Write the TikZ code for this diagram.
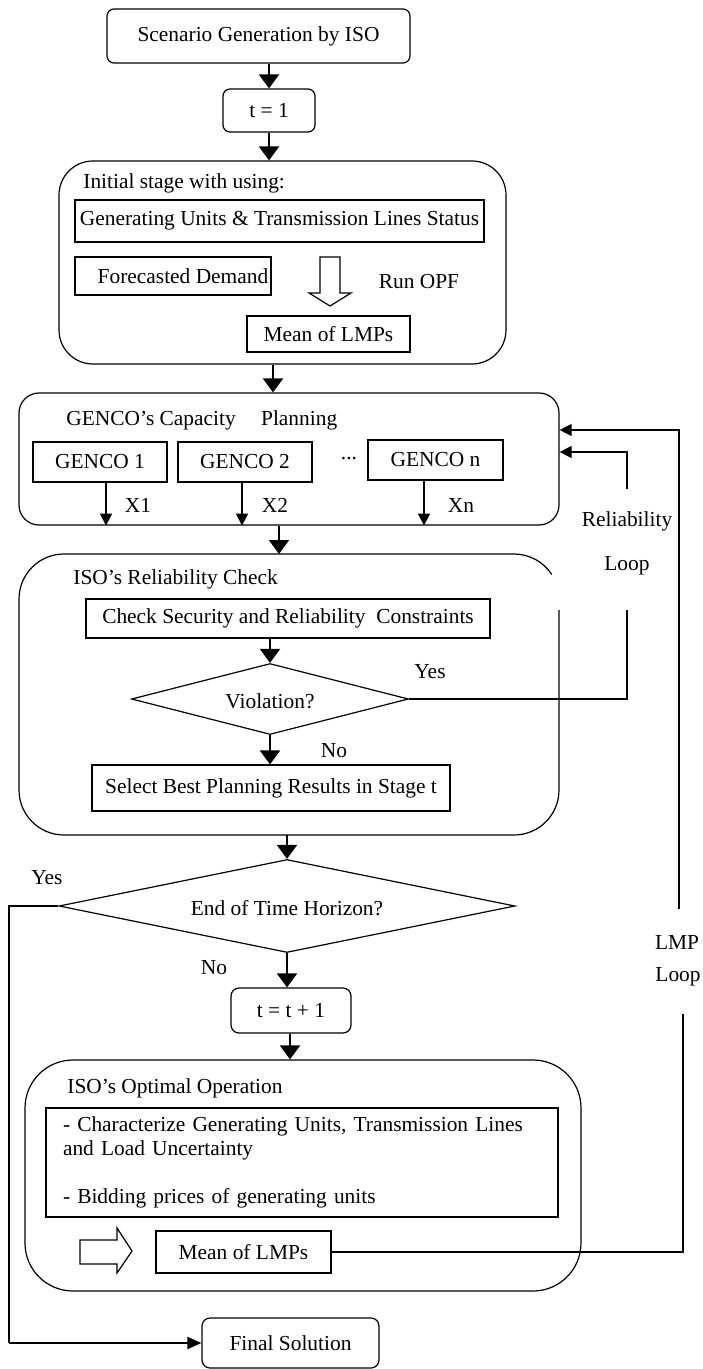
\documentclass[tikz,border=0pt]{standalone}
\usepackage{fontspec}
\setmainfont{Liberation Serif}
\usetikzlibrary{shapes.geometric,arrows.meta,calc}
\begin{document}
\begin{tikzpicture}[x=0.5pt,y=-0.5pt,
  font=\fontsize{10.7}{12}\selectfont,
  box/.style={draw, line width=0.6pt, inner sep=0, rectangle},
  rbox/.style={box, rounded corners=3.5pt},
  bigarr/.style={line width=1pt, -{Triangle[width=10pt,length=7pt]}},
  smallarr/.style={line width=0.7pt, -{Triangle[width=6pt,length=6pt]}},
  loopline/.style={line width=0.6pt},
  dia/.style={draw, diamond, line width=0.6pt, inner sep=0},
  lbl/.style={inner sep=0},
  hollow/.style={draw, line width=0.6pt, fill=white}
]
\useasboundingbox (0,0) rectangle (702,1369);

% top boxes
\node[rbox, minimum width=151.5pt, minimum height=27pt] (scen) at (258.5,36) {Scenario Generation by ISO};
\node[rbox, minimum width=46pt, minimum height=21.5pt] (t1) at (269,110.5) {t = 1};

% initial stage
\node[box, rounded corners=17pt, minimum width=223.5pt, minimum height=101.5pt] (init) at (282.5,262.5) {};
\node[lbl, anchor=west] (initlbl) at (83,183) {Initial stage with using:};
\node[box, minimum width=204.5pt, minimum height=21pt] (gen) at (279.5,221) {Generating Units \& Transmission Lines Status};
\node[box, minimum width=98pt, minimum height=19pt] (fore) at (173,276) {\hspace{10pt}Forecasted Demand};
\draw[hollow] (320,257) -- (340,257) -- (340,293) -- (351,293) -- (330,306) -- (309,293) -- (320,293) -- cycle;
\node[lbl] (runopf) at (419,282) {Run OPF};
\node[box, minimum width=81.5pt, minimum height=18pt] (mean1) at (328.5,334) {Mean of LMPs};

% GENCO planning
\node[box, rounded corners=10pt, minimum width=270pt, minimum height=66pt] (genco) at (289,459) {};
\node[lbl, anchor=west] (gencolbl) at (66,420) {GENCO’s Capacity\hspace{10pt} Planning};
\node[box, minimum width=67pt, minimum height=20pt] (g1) at (100,462) {GENCO 1\hspace{6pt}};
\node[box, minimum width=67pt, minimum height=20pt] (g2) at (245,462) {GENCO 2\hspace{5pt}};
\node[lbl] (dots) at (349,461) {\raisebox{2.5pt}{...}};
\node[box, minimum width=67.5pt, minimum height=20pt] (gn) at (435.5,460) {GENCO n\hspace{5pt}};
\draw[smallarr] ([xshift=3pt]g1.south) -- ([xshift=3pt]g1.south |- genco.south);
\draw[smallarr] ([xshift=-1.5pt]g2.south) -- ([xshift=-1.5pt]g2.south |- genco.south);
\draw[smallarr] ([xshift=-5.75pt]gn.south) -- ([xshift=-5.75pt]gn.south |- genco.south);
\node[lbl] (x1) at (138,505) {X1};
\node[lbl] (x2) at (275,505) {X2};
\node[lbl] (xn) at (461,505) {Xn};

% reliability check (right side interrupted)
\draw[line width=0.6pt, rounded corners=22.5pt] (559,610) -- (559,835) -- (19,835) -- (19,554) -- (514,554);
\draw[line width=0.6pt] (514,554) arc[start angle=90, end angle=33, radius=22.5pt];
\node[lbl, anchor=west] (rellbl) at (73,579) {ISO’s Reliability Check};
\node[box, minimum width=202pt, minimum height=19.5pt] (chk) at (288,618.5) {Check Security and Reliability\ \ Constraints};
\node[dia, minimum width=138.5pt, minimum height=35.5pt] (viol) at (270,699) {};
\node[lbl] (violtxt) at (270,701) {Violation?};
\node[box, minimum width=179pt, minimum height=23pt] (sel) at (271,788) {Select Best Planning Results in Stage t};
\node[lbl] (yes1) at (430,672) {Yes};
\node[lbl] (no1) at (334,751) {No};

% end of horizon
\node[dia, minimum width=228pt, minimum height=46.5pt] (endd) at (287,906) {};
\node[lbl] (endtxt) at (287,908) {End of Time Horizon?};
\node[lbl] (yes2) at (47,878) {Yes};
\node[lbl] (no2) at (214,968) {No};
\node[box, rounded corners=4pt, minimum width=60pt, minimum height=22.5pt] (tt) at (291,1010.5) {t = t + 1};

% optimal operation
\node[box, rounded corners=24pt, minimum width=278pt, minimum height=115.5pt] (opt) at (303,1175.5) {};
\node[lbl, anchor=west] (optlbl) at (67,1088) {ISO’s Optimal Operation};
\node[box, minimum width=256pt, minimum height=54.5pt, align=left, text width=239pt] (inner) at (302,1162.5) {- Characterize Generating Units, Transmission Lines\\and Load Uncertainty\\[12pt]- Bidding prices of generating units};
\draw[hollow] (80,1240) -- (117,1240) -- (117,1228) -- (132,1251) -- (117,1273) -- (117,1264) -- (80,1264) -- cycle;
\node[box, minimum width=87.5pt, minimum height=21pt] (mean2) at (243.5,1252) {Mean of LMPs};

% final
\node[box, rounded corners=4pt, minimum width=88.5pt, minimum height=25pt] (final) at (290.5,1343) {Final Solution};

% main flow arrows
\draw[bigarr] (t1.north |- scen.south) -- (t1.north);
\draw[bigarr] (t1.south) -- (t1.south |- init.north);
\draw[bigarr] ([xshift=-4.75pt]init.south) -- ([xshift=-4.75pt]init.south |- genco.north);
\draw[bigarr] ([xshift=-5pt]genco.south) -- ([xshift=-5pt]genco.south |- 0,554);
\draw[bigarr] (viol.north |- chk.south) -- (viol.north);
\draw[bigarr] (viol.south) -- (viol.south |- sel.north);
\draw[bigarr] (endd.north |- 0,835) -- (endd.north);
\draw[bigarr] (endd.south) -- (endd.south |- tt.north);
\draw[bigarr] ([xshift=-0.5pt]tt.south) -- ([xshift=-0.5pt]tt.south |- opt.north);

% reliability loop
\coordinate (rl1) at (627,699);
\coordinate (rl2) at (627,610);
\coordinate (rl3) at (627,489);
\coordinate (rl4) at (627,452);
\draw[loopline] (viol.east) -- (rl1) -- (rl2);
\draw[smallarr] (rl3) -- (rl4) -- (rl4 -| genco.east);
\node[lbl] (rellab1) at (627,521) {Reliability};
\node[lbl] (rellab2) at (627,566) {Loop};

% LMP loop
\coordinate (lm1) at (683,1014);
\coordinate (lm2) at (679,909);
\coordinate (lm3) at (679,430);
\draw[loopline] (mean2.east) -- (mean2.east -| lm1) -- (lm1);
\draw[smallarr] (lm2) -- (lm3) -- (lm3 -| genco.east);
\node[lbl] (lmplab1) at (677,942) {LMP};
\node[lbl] (lmplab2) at (678,977) {Loop};

% yes to final
\coordinate (ye1) at (9,906);
\draw[loopline] (endd.west) -- (ye1) -- (ye1 |- final.west);
\draw[line width=1pt, -{Triangle[width=6pt,length=7pt]}] (ye1 |- final.west) -- (final.west);
\end{tikzpicture}
\end{document}
